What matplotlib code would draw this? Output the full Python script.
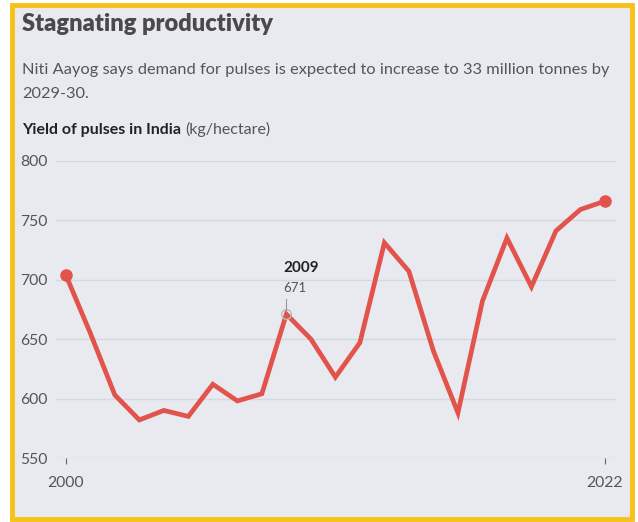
import matplotlib.pyplot as plt
from matplotlib.patches import Rectangle

# Yield of pulses in India (kg/hectare)
years = list(range(2000, 2023))
yield_kg = [704, 655, 603, 582, 590, 585, 612, 598, 604, 671, 650, 618,
            647, 731, 707, 640, 588, 682, 735, 694, 741, 759, 766]
y_ticks = [550, 600, 650, 700, 750, 800]
x_ticks = [2000, 2022]
note_year = 2009
note_value = 671

RED = "#E2534B"
BG = "#E8EAF0"
GOLD = "#F6C218"
TXT = "#4A4A4A"

plt.rcParams['font.family'] = ['Lato', 'DejaVu Sans']

fig = plt.figure(figsize=(6.38, 5.22), dpi=100)
fig.patch.set_facecolor("white")

# yellow frame with light panel inside
W, H = 638, 522
fig.patches.append(Rectangle((12 / W, 1 - 519 / H), 620 / W, 514 / H,
                             transform=fig.transFigure, facecolor=BG,
                             edgecolor=GOLD, linewidth=3.5, zorder=-10))

fig.text(22 / W, 1 - 24 / H, "Stagnating productivity", fontsize=17,
         fontweight="heavy", color=TXT, va="center", ha="left")
fig.text(22 / W, 1 - 70 / H,
         "Niti Aayog says demand for pulses is expected to increase to 33 million tonnes by",
         fontsize=11.8, color="#555555", va="center", ha="left")
fig.text(22 / W, 1 - 94 / H, "2029-30.",
         fontsize=11.8, color="#555555", va="center", ha="left")
lbl = fig.text(22 / W, 1 - 134 / H, "Yield of pulses in India", fontsize=11.5,
               fontweight="bold", color="#222222", va="baseline", ha="left")

ax = fig.add_axes([56 / W, 1 - 458 / H, 560 / W, 297.3 / H])
ax.set_facecolor("none")
ax.set_xlim(1999.6, 2022.45)
ax.set_ylim(550, 800)

ax.annotate("(kg/hectare)", xy=(1, 0), xycoords=lbl, xytext=(3, 0),
            textcoords="offset points", fontsize=11.5, color="#555555",
            va="bottom", ha="left", annotation_clip=False)

ax.plot(years, yield_kg, color=RED, linewidth=3.4, solid_joinstyle="miter", zorder=3)
ax.plot([years[0], years[-1]], [yield_kg[0], yield_kg[-1]], "o", color=RED,
        markersize=8, zorder=4)

# 2009 callout
ax.plot(note_year, note_value, "o", markersize=7, markerfacecolor="none",
        markeredgecolor="#BBBBBB", markeredgewidth=1, zorder=5)
ax.plot([note_year, note_year], [note_value + 3, note_value + 13], color="#999999",
        linewidth=0.8, zorder=5)
ax.text(note_year - 0.12, note_value + 22, str(note_value), fontsize=9.5,
        color="#555555", ha="left", va="center")
ax.text(note_year - 0.12, note_value + 39, str(note_year), fontsize=11,
        fontweight="bold", color="#222222", ha="left", va="center")

ax.set_yticks(y_ticks)
ax.set_xticks(x_ticks)
ax.grid(axis="y", color="#D5D8DF", linewidth=1)
ax.set_axisbelow(True)
for s in ax.spines.values():
    s.set_visible(False)
ax.tick_params(axis="y", length=0, pad=6, labelsize=11.3, labelcolor="#555555")
ax.tick_params(axis="x", length=4, width=0.8, color="#666666", pad=9,
               labelsize=11.3, labelcolor="#555555")

fig.savefig("out.png", dpi=100, facecolor=fig.get_facecolor())
